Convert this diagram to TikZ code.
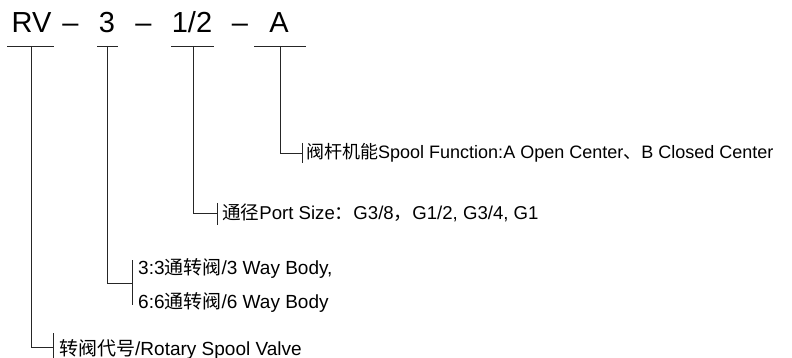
\documentclass[tikz,border=0pt]{standalone}
\usepackage{fontspec}
\setmainfont{Liberation Sans}
\newfontfamily\cjk{Noto Sans CJK SC}
\begin{document}
\begin{tikzpicture}[x=1pt,y=-1pt,
  ttl/.style={inner sep=0pt,anchor=base,font=\fontsize{29}{32}\selectfont},
  lbl/.style={inner sep=0pt,anchor=base west},
  ln/.style={line width=0.9pt,black!85}]
\useasboundingbox (0,0) rectangle (792,358);
% title
\node[ttl] (rv) at (31.5,33) {RV};
\node[ttl] (d1) at (70.5,33) {–};
\node[ttl] (n3) at (107,33) {3};
\node[ttl] (d2) at (143.5,33) {–};
\node[ttl] (hf) at (192,33) {1/2};
\node[ttl] (d3) at (240,33) {–};
\node[ttl] (aa) at (279,33) {A};
% underline junctions
\coordinate (u1) at (31,46);
\coordinate (u2) at (107,46);
\coordinate (u3) at (193,46);
\coordinate (u4) at (280,46);
\draw[ln] (7,46) -- (54,46);
\draw[ln] (97,46) -- (118,46);
\draw[ln] (171,46) -- (214,46);
\draw[ln] (254,46) -- (306,46);
% elbow coordinates
\coordinate (e4) at (302,153);
\coordinate (e3) at (217,213);
\coordinate (e2) at (132,283);
\coordinate (e1) at (53,347);
\draw[ln] (u4) |- (e4);
\draw[ln] (u3) |- (e3);
\draw[ln] (u2) |- (e2);
\draw[ln] (u1) |- (e1);
\draw[ln] (302,143) -- (302,163);
\draw[ln] (217,203) -- (217,225);
\draw[ln] (132,260) -- (132,305);
\draw[ln] (53,333) -- (53,359);
% labels
\node[lbl,font=\fontsize{18}{20}\selectfont] (l4) at (306,159) {{\cjk 阀杆机能}Spool Function:A Open Center{\cjk 、}B Closed Center};
\node[lbl,font=\fontsize{18.6}{20}\selectfont] (l3) at (222,219) {{\cjk 通径}Port Size{\cjk ：}G3/8{\cjk ，}G1/2, G3/4, G1};
\node[lbl,font=\fontsize{19}{20}\selectfont] (l2a) at (138,274) {3:3{\cjk 通转阀}/3 Way Body,};
\node[lbl,font=\fontsize{19}{20}\selectfont] (l2b) at (138,308) {6:6{\cjk 通转阀}/6 Way Body};
\node[lbl,font=\fontsize{19}{20}\selectfont] (l1) at (59,355) {{\cjk 转阀代号}/Rotary Spool Valve};
\end{tikzpicture}
\end{document}
